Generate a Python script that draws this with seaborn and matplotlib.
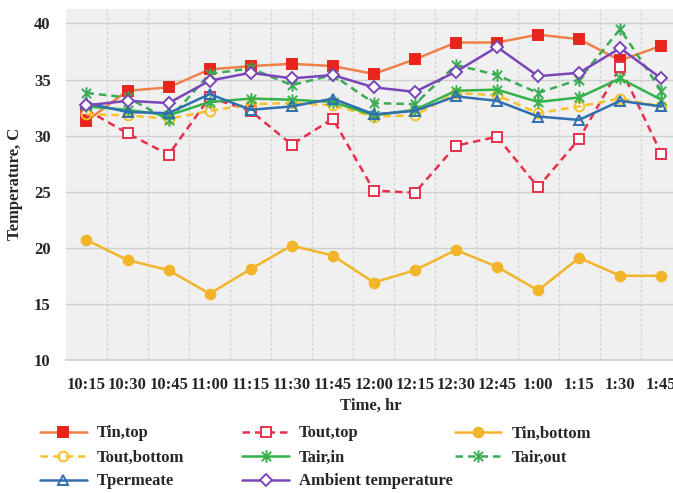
import matplotlib

matplotlib.use("Agg")
import matplotlib.pyplot as plt
import numpy as np
import pandas as pd
import seaborn as sns
from matplotlib.path import Path

# --- data ---
times = ["10:15", "10:30", "10:45", "11:00", "11:15", "11:30", "11:45", "12:00",
         "12:15", "12:30", "12:45", "1:00", "1:15", "1:30", "1:45"]

tin_top = [31.3, 34.0, 34.3, 35.9, 36.2, 36.4, 36.2, 35.5, 36.8, 38.3, 38.3, 39.0, 38.6, 36.7, 38.0]
tout_top = [32.3, 30.2, 28.3, 33.4, 32.2, 29.2, 31.5, 25.1, 24.9, 29.1, 29.9, 25.4, 29.7, 36.1, 28.4]
tin_bottom = [20.7, 18.9, 18.0, 15.9, 18.1, 20.2, 19.3, 16.9, 18.0, 19.8, 18.3, 16.2, 19.1, 17.5, 17.5]
tout_bottom = [31.9, 31.8, 31.5, 32.2, 32.8, 32.9, 32.7, 31.7, 31.8, 33.8, 33.6, 32.0, 32.6, 33.3, 32.6]
tair_in = [32.6, 32.3, 31.8, 33.0, 33.3, 33.2, 33.0, 31.8, 32.3, 34.0, 34.1, 33.0, 33.4, 35.1, 33.2]
tair_out = [33.8, 33.4, 31.4, 35.5, 36.0, 34.5, 35.4, 32.9, 32.8, 36.3, 35.4, 33.8, 35.0, 39.5, 34.0]
tpermeate = [32.9, 32.1, 32.0, 33.7, 32.3, 32.6, 33.3, 31.9, 32.2, 33.5, 33.1, 31.7, 31.4, 33.1, 32.6]
ambient = [32.7, 33.1, 32.9, 34.9, 35.6, 35.1, 35.4, 34.3, 33.9, 35.7, 37.9, 35.3, 35.6, 37.8, 35.1]

names = ["Tin,top", "Tout,top", "Tin,bottom", "Tout,bottom",
         "Tair,in", "Tair,out", "Tpermeate", "Ambient temperature"]
series = [tin_top, tout_top, tin_bottom, tout_bottom, tair_in, tair_out, tpermeate, ambient]

# Excel-like "star" marker: an X with a vertical bar through it
star = Path(
    [(0, -1), (0, 1), (-0.75, -0.75), (0.75, 0.75), (-0.75, 0.75), (0.75, -0.75)],
    [Path.MOVETO, Path.LINETO] * 3,
)

# line colour, marker, face colour, edge colour, marker size, dashed
styles = {
    "Tin,top": ("#f0804a", "s", "#e8251c", "#e8251c", 7, False),
    "Tout,top": ("#e8304c", "s", "white", "#e8304c", 7, True),
    "Tin,bottom": ("#f2b52a", "o", "#f2b52a", "#f2b52a", 7, False),
    "Tout,bottom": ("#f7c12c", "o", "none", "#f7c12c", 7, True),
    "Tair,in": ("#35b24a", star, "none", "#35b24a", 9, False),
    "Tair,out": ("#3bab55", star, "none", "#3bab55", 9, True),
    "Tpermeate": ("#2f6fb0", "^", "none", "#2f6fb0", 7, False),
    "Ambient temperature": ("#7b45b8", "D", "white", "#7b45b8", 6, False),
}

x = np.arange(len(times))
df = pd.concat(
    [pd.DataFrame({"x": x, "temp": vals, "series": name}) for name, vals in zip(names, series)],
    ignore_index=True,
)

sns.set_theme(style="whitegrid")
plt.rcParams["font.family"] = ["Liberation Serif", "DejaVu Serif"]
plt.rcParams["font.weight"] = "bold"

fig = plt.figure(figsize=(6.73, 4.93), dpi=100)
ax = fig.add_axes([0.098, 0.270, 0.915, 0.712])
ax.set_facecolor("#f0f0f0")

for name in names:
    color, marker, face, edge, msize, dashed = styles[name]
    sub = df[df["series"] == name]
    sns.lineplot(
        data=sub, x="x", y="temp", ax=ax, color=color, lw=1.8,
        linestyle=(0, (3, 2)) if dashed else "-",
        marker=marker, markersize=msize, markerfacecolor=face,
        markeredgecolor=edge, markeredgewidth=1.4, label=name,
    )

ax.set_xlim(-0.5, len(times) - 0.5)
ax.set_ylim(10, 41.3)
ax.set_yticks([10, 15, 20, 25, 30, 35, 40])
ax.set_xticks(x, times)
ax.set_xticks(x[:-1] + 0.5, minor=True)

ax.grid(False)
ax.grid(axis="y", which="major", color="#cfcfcf", lw=1.0)
ax.grid(axis="x", which="minor", color="#d2d2d2", lw=1.0, ls=(0, (2, 1.5)))
for side in ["top", "right", "left"]:
    ax.spines[side].set_visible(False)
ax.spines["bottom"].set_color("#d0d0d0")

ax.tick_params(axis="both", which="major", length=0, labelsize=12)
ax.tick_params(axis="y", which="major", pad=11)
ax.tick_params(axis="x", which="major", pad=12)
for lab in ax.get_xticklabels() + ax.get_yticklabels():
    lab.set_fontweight("bold")

ax.set_xlabel("Time, hr", fontsize=12, fontweight="bold")
ax.set_ylabel("Temperature, C", fontsize=12, fontweight="bold", labelpad=8)
ax.xaxis.set_label_coords(0.495, -0.108)

# legend: three equal-width columns, filled row by row (Excel style)
handles, labels = ax.get_legend_handles_labels()
ax.get_legend().remove()
col_x = [0.0595, 0.36, 0.6755]
for c in range(3):
    idx = list(range(c, len(handles), 3))
    fig.legend(
        [handles[i] for i in idx], [labels[i] for i in idx],
        loc="upper left", bbox_to_anchor=(col_x[c], 0.137), frameon=False,
        prop={"weight": "bold", "size": 12}, handlelength=2.8, handletextpad=0.6,
        labelspacing=0.48, borderaxespad=0, borderpad=0,
    )

fig.savefig("out.png", dpi=100, facecolor="white")
